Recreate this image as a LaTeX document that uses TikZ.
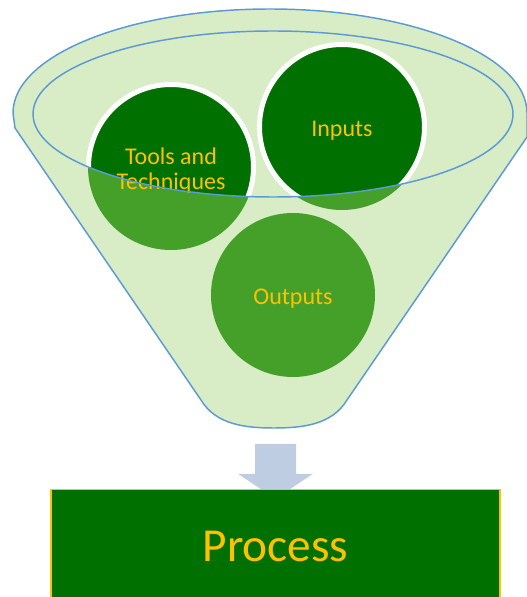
\documentclass[tikz,border=0pt]{standalone}
\usepackage{fontspec}
\setmainfont{Carlito}
\usepackage{tikz}
\usetikzlibrary{backgrounds}

\definecolor{darkgrn}{RGB}{0,112,0}
\definecolor{midgrn}{RGB}{69,160,42}
\definecolor{lightgrn}{RGB}{216,236,197}
\definecolor{rimblue}{RGB}{91,155,213}
\definecolor{gold}{RGB}{255,192,0}
\definecolor{arrowblue}{RGB}{191,205,227}

\begin{document}
\begin{tikzpicture}[x=0.75pt,y=0.75pt,
  ball/.style={circle,minimum size=123.75pt,inner sep=0pt,align=center,text=gold,font=\fontsize{18}{19}\selectfont},
  rim/.style={draw=rimblue,line width=1.1pt}]
\useasboundingbox (0,0) rectangle (527,597);
\coordinate (t) at (171,430);
\coordinate (i) at (342,470);
\coordinate (o) at (293,302);
\node[ball] (T) at ([yshift=-2.5pt]t) {Tools and\\Techniques};
\node[ball] (I) at ([yshift=-2.5pt]i) {Inputs};
\node[ball] (O) at ([yshift=-2.5pt]o) {Outputs};
\node[draw=gold,fill=darkgrn,line width=1.1pt,minimum width=336.75pt,minimum height=84.75pt,
  text=gold,font=\fontsize{35.5}{42}\selectfont] (P) at (275.5,51) {Process};
\coordinate (F) at (274,169);
\begin{pgfonlayer}{background}
% funnel body
\path[rim,fill=lightgrn] (13,484) arc[start angle=180,end angle=0,x radius=257,y radius=104]
  -- (527,460) -- (347,197) .. controls (332,172) and (302,169) .. (F)
  .. controls (246,169) and (216,172) .. (201,197) -- (15,469) -- cycle;
\path[fill=darkgrn,draw=white,line width=3.75pt] (t) circle[radius=82.5] (i) circle[radius=82.5];
\fill[midgrn] (o) circle[radius=82];
% front half of the rim
\begin{scope}
\clip (33,483) arc[start angle=180,end angle=360,x radius=240,y radius=83] -- (513,150) -- (33,150) -- cycle;
\fill[lightgrn] (t) circle[radius=86.5] (i) circle[radius=86.5];
\fill[midgrn] (t) circle[radius=83] (i) circle[radius=83];
\end{scope}
% arrow down to the box
\fill[arrowblue] (P.north) ++(-20.5,45) -- ++(41,0) -- ++(0,-30) -- ++(17,0)
  -- ++(-37.5,-25) -- ++(-37.5,25) -- ++(17,0) -- cycle;
\end{pgfonlayer}
\draw[rim] (273,483) ellipse[x radius=240,y radius=83];
\end{tikzpicture}
\end{document}
